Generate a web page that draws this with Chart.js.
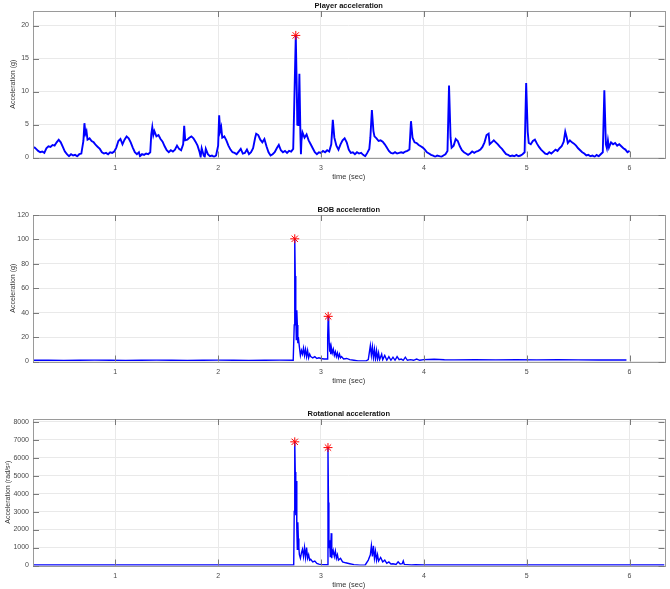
<!DOCTYPE html>
<html><head><meta charset="utf-8">
<script src="https://cdn.jsdelivr.net/npm/chart.js@4.4.0/dist/chart.umd.min.js"></script>
<style>
html,body{margin:0;padding:0;background:#fff;overflow:hidden;width:670px;height:589px}
.p{position:absolute;left:0;width:670px;height:204px}
</style></head><body>
<div class="p" style="top:0"><canvas id="c1"></canvas></div>
<div class="p" style="top:204px"><canvas id="c2"></canvas></div>
<div class="p" style="top:408px"><canvas id="c3"></canvas></div>
<script>
// ---------- DATA ----------
const xTicks = [1, 2, 3, 4, 5, 6];

const playerTitle = "Player acceleration";
const playerYLabel = "Acceleration (g)";
const playerYTicks = [0, 5, 10, 15, 20];
const playerT = [0.21,0.23,0.25,0.27,0.29,0.31,0.33,0.35,0.37,0.39,0.41,0.43,0.45,0.47,0.49,0.51,0.53,0.55,0.57,0.59,0.61,0.63,0.65,0.67,0.69,0.70,0.71,0.72,0.73,0.75,0.77,0.79,0.81,0.83,0.85,0.87,0.89,0.91,0.93,0.95,0.97,0.99,1.01,1.03,1.05,1.07,1.09,1.11,1.13,1.15,1.17,1.19,1.21,1.23,1.24,1.26,1.28,1.30,1.32,1.34,1.35,1.36,1.37,1.38,1.40,1.42,1.44,1.46,1.48,1.50,1.52,1.54,1.56,1.58,1.60,1.62,1.64,1.66,1.67,1.68,1.70,1.72,1.74,1.76,1.78,1.80,1.82,1.83,1.84,1.86,1.87,1.88,1.90,1.92,1.94,1.96,1.98,2.00,2.01,2.02,2.03,2.04,2.06,2.08,2.10,2.12,2.14,2.16,2.18,2.20,2.22,2.24,2.26,2.28,2.30,2.32,2.34,2.36,2.37,2.39,2.41,2.43,2.45,2.47,2.49,2.51,2.53,2.55,2.57,2.59,2.61,2.63,2.65,2.67,2.69,2.71,2.73,2.74,2.755,2.765,2.77,2.775,2.78,2.79,2.80,2.805,2.81,2.82,2.84,2.86,2.88,2.90,2.92,2.94,2.96,2.98,3.00,3.02,3.04,3.06,3.08,3.10,3.115,3.13,3.15,3.17,3.19,3.21,3.23,3.25,3.27,3.29,3.31,3.33,3.35,3.37,3.39,3.41,3.43,3.45,3.47,3.48,3.495,3.51,3.52,3.54,3.56,3.58,3.60,3.62,3.64,3.66,3.68,3.70,3.72,3.74,3.76,3.78,3.80,3.82,3.84,3.86,3.875,3.89,3.91,3.93,3.95,3.97,3.99,4.01,4.03,4.05,4.07,4.09,4.11,4.13,4.15,4.17,4.19,4.21,4.23,4.245,4.26,4.27,4.29,4.31,4.33,4.35,4.37,4.39,4.41,4.43,4.45,4.47,4.49,4.51,4.53,4.55,4.57,4.59,4.61,4.63,4.64,4.66,4.68,4.70,4.72,4.74,4.76,4.78,4.80,4.82,4.84,4.86,4.88,4.90,4.92,4.94,4.96,4.98,4.995,5.01,5.02,5.04,5.06,5.08,5.10,5.12,5.14,5.16,5.18,5.20,5.22,5.24,5.26,5.28,5.30,5.32,5.34,5.36,5.375,5.39,5.40,5.42,5.44,5.46,5.48,5.50,5.52,5.54,5.56,5.58,5.60,5.62,5.64,5.66,5.68,5.70,5.72,5.74,5.755,5.77,5.78,5.79,5.80,5.82,5.84,5.86,5.88,5.90,5.92,5.94,5.96,5.98,6.00];
const playerAcc = [1.6,1.3,1.0,0.8,0.9,0.7,1.4,1.7,1.6,1.9,1.8,2.3,2.7,2.3,1.6,0.9,0.5,0.2,0.5,0.3,0.4,0.2,0.5,0.6,2.5,5.2,3.6,4.0,2.7,2.9,2.5,2.3,1.9,1.6,1.3,0.8,0.6,0.7,0.5,0.8,0.7,0.9,1.5,2.5,2.8,2.0,2.7,3.2,2.9,2.3,1.5,0.8,0.5,0.8,0.2,0.5,0.4,0.6,0.5,0.8,3.5,4.6,3.4,4.0,3.2,3.4,2.8,2.4,1.7,1.1,0.8,1.1,0.9,1.2,1.8,1.3,1.1,2.0,4.8,2.6,2.7,3.0,3.2,2.9,2.4,1.8,0.8,0.1,1.4,0.3,0.1,1.3,0.5,0.2,0.3,0.1,0.3,1.8,6.4,4.0,4.6,3.0,3.2,2.6,1.8,1.2,0.8,0.7,0.5,0.9,1.3,0.6,0.7,1.2,0.5,0.8,1.4,3.0,3.6,3.4,2.7,2.3,2.8,1.7,0.8,0.3,0.5,0.8,1.4,1.9,1.1,0.8,1.0,0.7,1.0,0.9,1.3,8.0,18.5,10.0,5.0,6.0,4.8,12.7,3.5,0.5,2.5,3.8,3.0,3.5,2.6,2.0,1.4,0.8,0.5,0.8,0.7,1.0,0.8,1.1,0.9,2.0,5.7,3.0,1.8,1.2,2.0,2.6,2.9,2.3,1.2,0.7,0.8,0.5,0.8,0.6,0.7,0.4,0.2,0.7,1.3,3.0,7.2,4.0,3.2,2.9,2.5,2.6,2.4,2.0,1.5,1.0,0.7,0.6,0.8,0.6,0.7,0.8,0.7,0.9,1.0,1.2,5.5,3.0,2.3,2.2,1.9,1.7,1.5,1.2,0.8,0.6,0.4,0.3,0.1,0.3,0.2,0.1,0.3,0.5,1.0,10.9,3.0,1.5,1.8,2.8,2.5,1.7,1.1,0.8,0.6,0.4,0.6,0.9,0.7,0.9,1.0,1.2,1.6,2.3,3.4,3.6,2.0,2.3,2.6,2.3,2.0,1.6,1.3,0.9,0.5,0.4,0.2,0.3,0.2,0.4,0.2,0.3,0.5,0.8,11.3,3.9,2.2,2.0,2.5,2.7,2.1,1.6,1.2,0.9,0.6,0.5,0.8,0.6,0.9,1.2,1.0,1.4,1.7,2.4,3.9,3.0,2.2,2.6,2.3,2.1,1.8,1.4,1.1,0.8,0.6,0.3,0.4,0.2,0.3,0.1,0.4,0.2,0.5,0.8,10.2,2.0,1.4,2.6,1.5,2.3,2.0,2.2,1.8,2.0,1.7,1.4,1.2,0.8,1.0];
const playerPeakT = [2.755];
const playerPeakV = [18.5];

const bobTitle = "BOB acceleration";
const bobYLabel = "Acceleration (g)";
const bobYTicks = [0, 20, 40, 60, 80, 100, 120];
const bobT = [0.20,0.35,0.50,0.65,0.80,0.95,1.10,1.25,1.40,1.55,1.70,1.85,2.00,2.15,2.30,2.45,2.60,2.73,2.74,2.745,2.75,2.755,2.76,2.765,2.77,2.775,2.78,2.79,2.80,2.81,2.82,2.83,2.84,2.85,2.86,2.87,2.88,2.89,2.90,2.92,2.94,2.96,2.98,3.00,3.03,3.06,3.065,3.07,3.075,3.08,3.085,3.09,3.095,3.10,3.11,3.12,3.13,3.14,3.15,3.16,3.17,3.18,3.19,3.20,3.22,3.25,3.28,3.32,3.36,3.40,3.44,3.46,3.48,3.49,3.50,3.51,3.52,3.53,3.54,3.55,3.56,3.57,3.59,3.60,3.62,3.64,3.66,3.68,3.70,3.72,3.74,3.76,3.78,3.80,3.82,3.84,3.87,3.90,3.93,3.96,4.00,4.10,4.20,4.30,4.50,4.70,4.90,5.10,5.30,5.50,5.70,5.97];
const bobAcc = [1.0,1.1,0.9,1.0,1.1,1.0,0.9,1.0,1.1,1.0,0.9,1.0,1.1,1.0,0.9,1.0,1.1,1.0,30,100.5,70,40,18,42,30,15,20,12,5,9,6,11,5,10,4,9,3,6,4,3,4,2.5,3,2.5,2,2,20,37,30,15,8,11,6,12,7,10,5,8,4,7,3,6,3,4,2,2.5,1.5,1,0.5,0.5,0.5,1.5,13,5,12,3,10,2,9,2,7,1.5,6,1.5,5,1,4,1,3.5,1,4,1.5,2,1,3.5,1,1.5,1,2,1,1.5,1.8,1.4,1.3,1.4,1.3,1.4,1.3,1.4,1.3,1.2,1.2];
const bobPeakT = [2.745, 3.07];
const bobPeakV = [100.5, 37];

const rotTitle = "Rotational acceleration";
const rotYLabel = "Acceleration (rad/s\u00B2)";
const rotYTicks = [0, 1000, 2000, 3000, 4000, 5000, 6000, 7000, 8000];
const rotT = [0.20,0.60,1.00,1.40,1.80,2.20,2.60,2.735,2.74,2.745,2.75,2.755,2.76,2.765,2.77,2.775,2.78,2.785,2.79,2.80,2.81,2.82,2.83,2.84,2.85,2.86,2.87,2.88,2.89,2.90,2.92,2.94,2.96,2.98,3.00,3.03,3.065,3.068,3.073,3.077,3.08,3.085,3.09,3.095,3.10,3.105,3.11,3.115,3.12,3.13,3.14,3.15,3.16,3.17,3.19,3.21,3.24,3.28,3.32,3.38,3.43,3.46,3.48,3.49,3.50,3.51,3.52,3.53,3.54,3.55,3.56,3.58,3.60,3.62,3.64,3.66,3.68,3.70,3.73,3.75,3.77,3.79,3.80,3.81,3.84,3.88,3.92,4.00,4.50,5.00,5.50,6.00,6.34];
const rotAcc = [30,30,30,30,30,30,30,30,3000,6880,5200,2800,4700,2000,900,2400,1500,1000,600,400,700,900,500,1000,450,1000,400,600,300,350,200,250,120,80,50,40,40,6560,3500,1500,1000,1400,500,1100,1800,400,900,600,800,500,800,400,600,300,400,200,150,100,50,20,30,300,600,1100,500,1100,400,800,300,600,250,450,200,300,120,200,80,100,60,200,80,100,250,60,50,30,40,30,30,30,30,30,30];
const rotPeakT = [2.745, 3.068];
const rotPeakV = [6880, 6560];

// ---------- CHART ----------
const FONT = "'Liberation Sans', Arial, Helvetica, sans-serif";
const X_MIN = 0.2, X_MAX = 6.34;

function frame(title, ylabel, yTicks, xTickVals) {
  return {
    id: 'frame',
    afterDraw(chart) {
      const ctx = chart.ctx, a = chart.chartArea;
      const xs = chart.scales.x, ys = chart.scales.y;
      ctx.save();
      ctx.strokeStyle = '#9a9a9a';
      ctx.lineWidth = 1;
      ctx.strokeRect(Math.round(a.left) + 0.5, Math.round(a.top) + 0.5,
        Math.round(a.right - a.left), Math.round(a.bottom - a.top));
      ctx.strokeStyle = '#7a7a7a';
      ctx.beginPath();
      const tl = 6;
      xTickVals.forEach(v => {
        const px = Math.round(xs.getPixelForValue(v)) + 0.5;
        ctx.moveTo(px, a.bottom); ctx.lineTo(px, a.bottom - tl);
        ctx.moveTo(px, a.top); ctx.lineTo(px, a.top + tl);
      });
      yTicks.forEach(v => {
        const py = Math.round(ys.getPixelForValue(v)) + 0.5;
        ctx.moveTo(a.left, py); ctx.lineTo(a.left + tl, py);
        ctx.moveTo(a.right, py); ctx.lineTo(a.right - tl, py);
      });
      ctx.stroke();
      ctx.fillStyle = '#111';
      ctx.textAlign = 'center';
      ctx.textBaseline = 'middle';
      ctx.font = 'bold 7.5px ' + FONT;
      ctx.fillText(title, (a.left + a.right) / 2, a.top - 5);
      ctx.fillStyle = '#333';
      ctx.font = '7.5px ' + FONT;
      ctx.fillText('time (sec)', (a.left + a.right) / 2, a.bottom + 19);
      ctx.save();
      ctx.font = '7px ' + FONT;
      const yl = ylabel.length > 18 ? 8 : 13;
      ctx.translate(yl, (a.top + a.bottom) / 2);
      ctx.rotate(-Math.PI / 2);
      ctx.fillText(ylabel, 0, 0);
      ctx.restore();
      ctx.restore();
    }
  };
}

function makeChart(id, T, V, PT, PV, yTicks, yMax, title, ylabel, lw) {
  const line = T.map((t, i) => ({ x: t, y: V[i] }));
  const peaks = PT.map((t, i) => ({ x: t, y: PV[i] }));
  new Chart(document.getElementById(id), {
    type: 'scatter',
    data: {
      datasets: [
        { data: peaks, showLine: false, pointStyle: 'star', pointRadius: 4.5,
          borderColor: '#ff0000', backgroundColor: '#ff0000', borderWidth: 1, order: 0 },
        { data: line, showLine: true, borderColor: '#0000ff', borderWidth: lw,
          pointRadius: 0, tension: 0, order: 1 }
      ]
    },
    options: {
      responsive: true, maintainAspectRatio: false, animation: false,
      layout: { padding: { top: 11, right: 4, left: 0, bottom: 0 } },
      plugins: { legend: { display: false }, tooltip: { enabled: false }, title: { display: false } },
      scales: {
        x: {
          type: 'linear', min: X_MIN, max: X_MAX,
          afterBuildTicks: s => { s.ticks = xTicks.map(v => ({ value: v })); },
          afterFit: s => { s.height = 46.5; },
          grid: { color: '#e9e9e9', drawTicks: false, lineWidth: 1 },
          border: { display: false },
          ticks: { padding: 6, color: '#4a4a4a', font: { family: FONT, size: 7 }, maxRotation: 0,
                   callback: v => String(v) }
        },
        y: {
          type: 'linear', min: 0, max: yMax,
          afterBuildTicks: s => { s.ticks = yTicks.map(v => ({ value: v })); },
          afterFit: s => { s.width = 33; },
          grid: { color: '#e9e9e9', drawTicks: false, lineWidth: 1 },
          border: { display: false },
          ticks: { padding: 4, color: '#4a4a4a', font: { family: FONT, size: 7 },
                   callback: v => String(v) }
        }
      }
    },
    plugins: [frame(title, ylabel, yTicks, xTicks)]
  });
}

makeChart('c1', playerT, playerAcc, playerPeakT, playerPeakV, playerYTicks, 22.2, playerTitle, playerYLabel, 1.9);
makeChart('c2', bobT, bobAcc, bobPeakT, bobPeakV, bobYTicks, 120, bobTitle, bobYLabel, 1.4);
makeChart('c3', rotT, rotAcc, rotPeakT, rotPeakV, rotYTicks, 8150, rotTitle, rotYLabel, 1.4);
</script>
</body></html>
